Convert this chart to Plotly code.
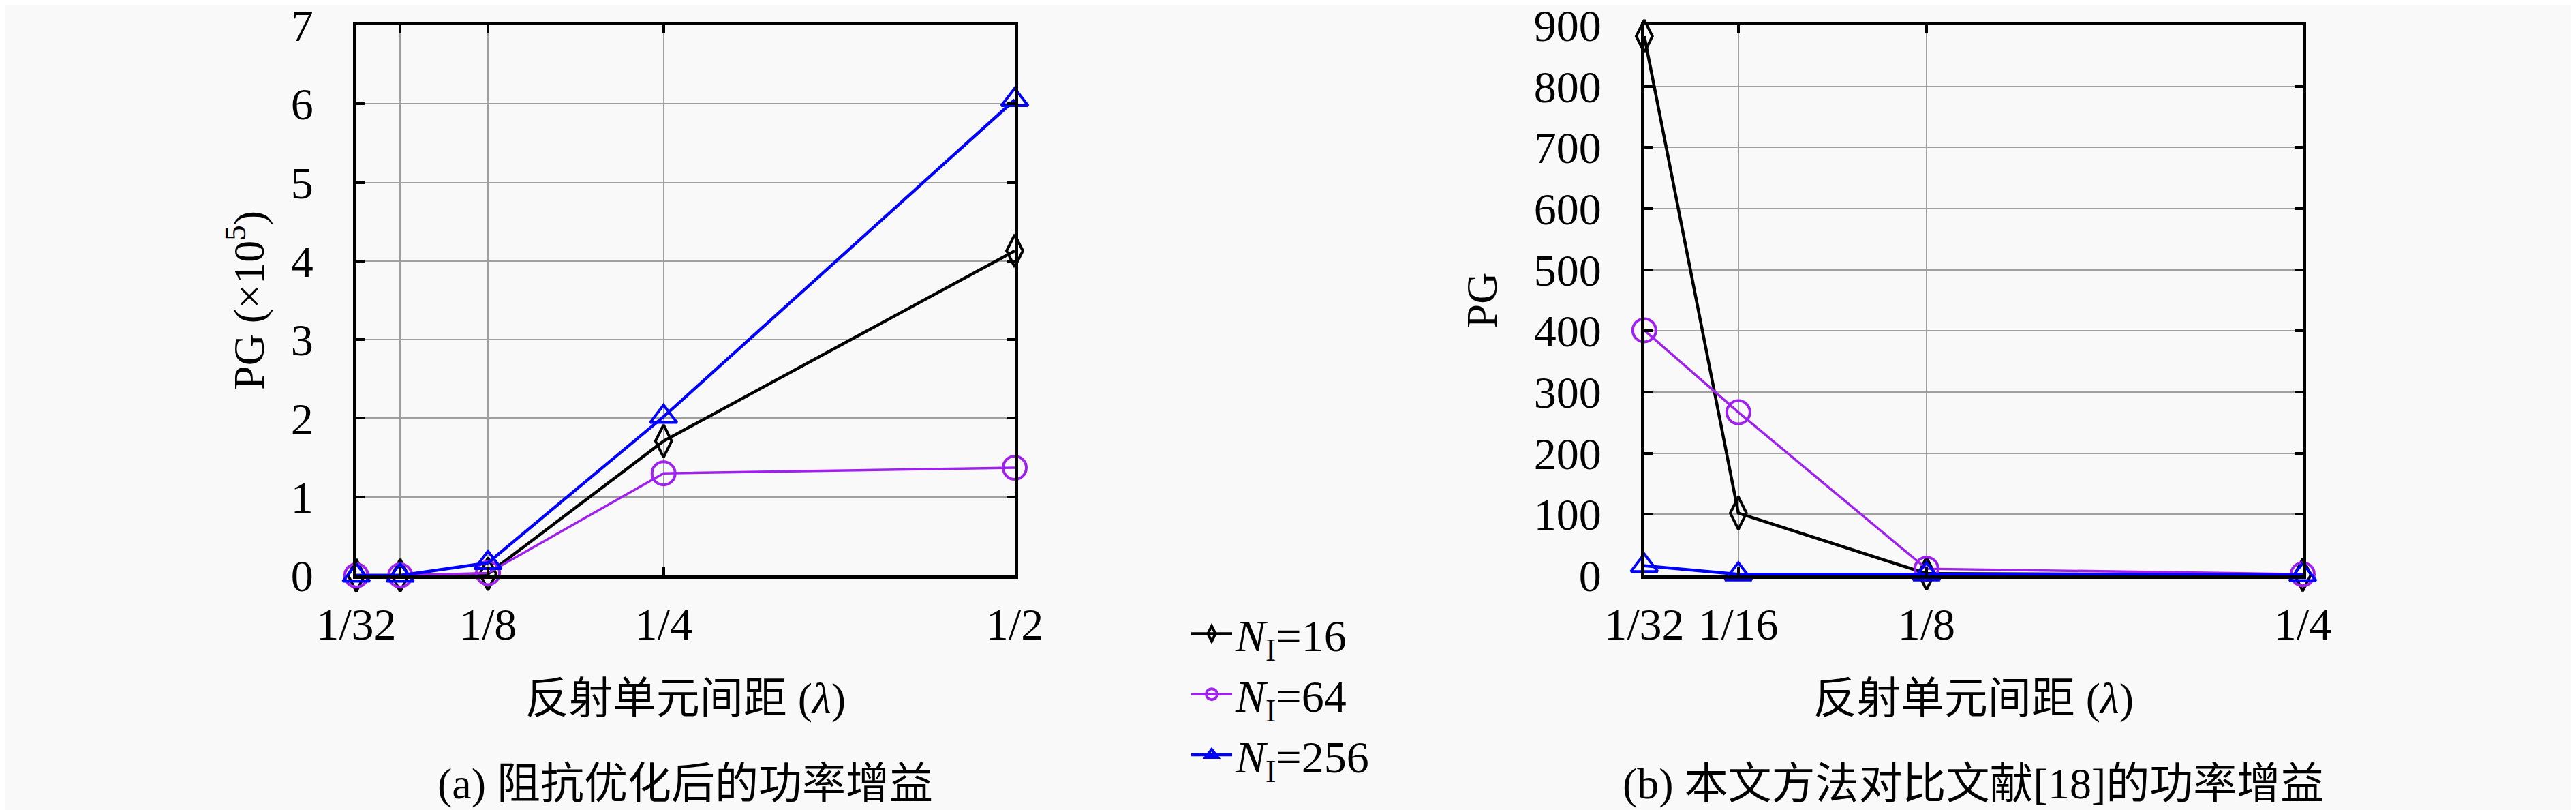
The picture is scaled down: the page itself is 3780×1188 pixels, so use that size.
import plotly.graph_objects as go

# data
spacing_a = [1/32, 1/16, 1/8, 1/4, 1/2]
pg_a_16 = [0.0, 0.0, 0.02, 1.71, 4.13]      # x 1e5
pg_a_64 = [0.0, 0.0, 0.03, 1.30, 1.37]
pg_a_256 = [0.0, 0.0, 0.16, 2.02, 6.05]

spacing_b = [1/32, 1/16, 1/8, 1/4]
pg_b_16 = [882, 102, 3, 1]
pg_b_64 = [401, 267, 11, 2]
pg_b_256 = [16, 2, 2, 1]

ticks_a = [1/32, 1/16, 1/8, 1/4, 1/2]
ticktext_a = ["1/32", " ", "1/8", "1/4", "1/2"]
ticks_b = [1/32, 1/16, 1/8, 1/4]
ticktext_b = ["1/32", "1/16", "1/8", "1/4"]
yticks_a = [0, 1, 2, 3, 4, 5, 6, 7]
yticks_b = [0, 100, 200, 300, 400, 500, 600, 700, 800, 900]

names = ["<i>N</i><sub>I</sub>=16", "<i>N</i><sub>I</sub>=64", "<i>N</i><sub>I</sub>=256"]
colors = ["#000000", "#a020f0", "#0000ff"]
symbols = ["diamond-tall-open", "circle-open", "triangle-up-open"]
widths = [4.5, 3.5, 4.5]

FONT = "Liberation Serif, 'Noto Sans CJK SC', serif"
BG = "#f9f9f9"

fig = go.Figure()

for i, ys in enumerate([pg_a_16, pg_a_64, pg_a_256]):
    fig.add_trace(go.Scatter(
        x=spacing_a, y=ys, name=names[i], mode="lines+markers",
        line=dict(color=colors[i], width=widths[i]),
        marker=dict(symbol=symbols[i], size=34, color=colors[i],
                    line=dict(color=colors[i], width=4)),
        xaxis="x", yaxis="y", showlegend=True, cliponaxis=False,
    ))

for i, ys in enumerate([pg_b_16, pg_b_64, pg_b_256]):
    fig.add_trace(go.Scatter(
        x=spacing_b, y=ys, name=names[i], mode="lines+markers",
        line=dict(color=colors[i], width=widths[i]),
        marker=dict(symbol=symbols[i], size=34, color=colors[i],
                    line=dict(color=colors[i], width=4)),
        xaxis="x2", yaxis="y2", showlegend=False, cliponaxis=False,
    ))

axis_common = dict(
    showline=True, linecolor="black", linewidth=5, mirror="ticks",
    ticks="inside", ticklen=12, tickwidth=4, tickcolor="black",
    showgrid=True, gridcolor="#a0a0a0", gridwidth=2,
    zeroline=False, automargin=False, tickangle=0,
    ticklabeloverflow="allow",
    tickfont=dict(family=FONT, size=66, color="black"),
)

fig.update_layout(
    width=3780, height=1188,
    margin=dict(l=0, r=0, t=0, b=0),
    paper_bgcolor=BG, plot_bgcolor=BG,
    font=dict(family=FONT, size=64, color="black"),
    xaxis=dict(domain=[0.1362, 0.3918], range=[1/32, 1/2], tickmode="array",
               tickvals=ticks_a, ticktext=ticktext_a, ticklabelstandoff=10,
               title=dict(text="反射单元间距 (<i>λ</i>)", standoff=52,
                          font=dict(family=FONT, size=64)),
               anchor="y", **axis_common),
    yaxis=dict(domain=[0.2963, 0.9756], range=[0, 7], tickmode="array",
               tickvals=yticks_a, ticklabelstandoff=45,
               title=dict(text="PG (×10<sup>5</sup>)", standoff=20,
                          font=dict(family=FONT, size=64)),
               anchor="x", **axis_common),
    xaxis2=dict(domain=[0.6362, 0.8918], range=[1/32, 1/4], tickmode="array",
                tickvals=ticks_b, ticktext=ticktext_b, ticklabelstandoff=10,
                title=dict(text="反射单元间距 (<i>λ</i>)", standoff=52,
                           font=dict(family=FONT, size=64)),
                anchor="y2", **axis_common),
    yaxis2=dict(domain=[0.2963, 0.9756], range=[0, 900], tickmode="array",
                tickvals=yticks_b, ticklabelstandoff=45,
                title=dict(text="PG", standoff=35,
                           font=dict(family=FONT, size=64)),
                anchor="x2", **axis_common),
    legend=dict(x=0.459, y=0.266, xanchor="left", yanchor="top",
                bgcolor="rgba(0,0,0,0)", font=dict(family=FONT, size=66),
                itemwidth=60, tracegroupgap=0),
    annotations=[
        dict(text="(a) 阻抗优化后的功率增益", x=0.264, y=0.039,
             xref="paper", yref="paper", xanchor="center", yanchor="middle",
             showarrow=False, font=dict(family=FONT, size=64)),
        dict(text="(b) 本文方法对比文献[18]的功率增益", x=0.764, y=0.039,
             xref="paper", yref="paper", xanchor="center", yanchor="middle",
             showarrow=False, font=dict(family=FONT, size=64)),
    ],
)

fig.write_html("out.html")
